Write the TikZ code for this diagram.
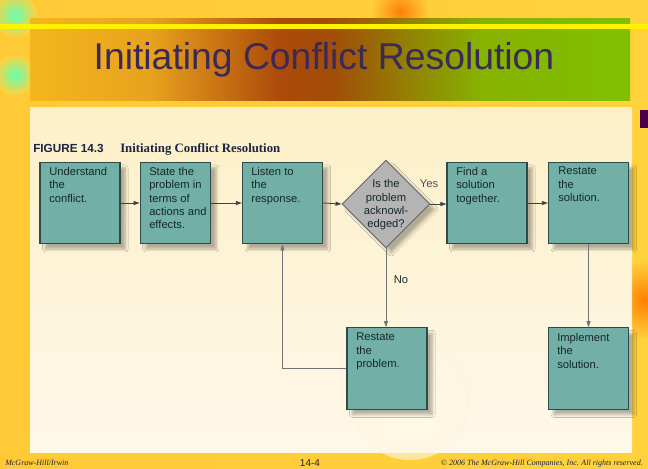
\documentclass[tikz,border=0pt]{standalone}
\usepackage{fontspec}
\setmainfont{Liberation Sans}
\newfontfamily\capserif{Liberation Serif}
\usetikzlibrary{shapes.geometric,arrows.meta,shadows.blur}
\definecolor{bgyel}{HTML}{FFD23C}
\definecolor{panel}{HTML}{FDF5E0}
\definecolor{teal}{HTML}{72AFA6}
\definecolor{tealline}{HTML}{2C4A46}
\definecolor{dgray}{HTML}{B4B4B4}
\definecolor{titlec}{HTML}{3A2A58}
\definecolor{navy}{HTML}{1C2444}
\definecolor{txt}{HTML}{15282A}
\definecolor{bn1}{HTML}{F4B61C}
\definecolor{bn2}{HTML}{E8A21E}
\definecolor{bn3}{HTML}{AC4A0A}
\definecolor{bn4}{HTML}{A24C08}
\definecolor{bn5}{HTML}{86B200}
\definecolor{bn6}{HTML}{80C000}
\tikzset{
 box/.style={draw=tealline,line width=0.9pt,fill=teal,minimum width=60pt,minimum height=61pt,inner sep=0pt,
   blur shadow={shadow xshift=4pt,shadow yshift=-4pt,shadow blur steps=6,shadow opacity=30}},
 btext/.style={anchor=north west,align=left,inner sep=0pt,text=txt,font=\fontsize{8.4}{10}\selectfont},
 arr/.style={draw=black!75,line width=0.6pt,-{Triangle[length=4.5pt,width=3pt]}},
 thin arr/.style={draw=black!55,line width=0.4pt,-{Triangle[length=4.5pt,width=3pt]}},
}
\begin{document}
\begin{tikzpicture}[x=0.75pt,y=-0.75pt]
\useasboundingbox (0,0) rectangle (648,468);
% background
\shade[left color=bgyel!90!orange,right color=bgyel] (0,0) rectangle (648,468);
\shade[inner color=orange!85!red,outer color=bgyel,opacity=0.8] (400,12) circle (30);
\shade[inner color=cyan!50!green!60!white,outer color=bgyel] (15,15) circle (22);
\shade[inner color=cyan!50!green!60!white,outer color=bgyel] (15,75) circle (20);
\shade[inner color=orange,outer color=bgyel] (645,300) circle (40);
\fill[violet!60!black] (640,110) rectangle (648,128);
% title banner
\shade[left color=bn1,right color=bn2] (30,18) rectangle (150.5,100);
\shade[left color=bn2,right color=bn3] (150,18) rectangle (280.5,100);
\shade[left color=bn3,right color=bn4] (280,18) rectangle (330.5,100);
\shade[left color=bn4,right color=bn5] (330,18) rectangle (480.5,100);
\shade[left color=bn5,right color=bn6] (480,18) rectangle (630,100);
\fill[yellow] (0,24) rectangle (648,29);
\node[font=\fontsize{28}{32}\selectfont,text=titlec] (title) at (324,60) {Initiating Conflict Resolution};
% panel
\shade[top color=panel!85!bgyel,bottom color=panel!70!white] (30,107) rectangle (632,452);
\shade[inner color=white!90!yellow,outer color=panel,opacity=0.6] (410,400) circle (60);
% caption
\node[anchor=base west,inner sep=0pt,font=\fontsize{8.8}{11}\selectfont\bfseries,text=navy] (fig) at (33,152) {FIGURE 14.3};
\node[anchor=base west,inner sep=0pt,font=\capserif\fontsize{9.6}{11}\selectfont\bfseries,text=navy] (cap) at (120,152) {Initiating Conflict Resolution};
% boxes
\node[box] (b1) at (80,203) {};
\node[box,minimum width=53pt] (b2) at (175.5,203) {};
\node[box] (b3) at (282.5,203) {};
\node[box] (b4) at (487,203) {};
\node[box] (b5) at (588.5,203) {};
\node[box] (b6) at (387,368.5) {};
\node[box] (b7) at (588.5,368.5) {};
\node[diamond,draw=black!60,line width=0.7pt,fill=dgray,minimum width=66pt,minimum height=66pt,inner sep=0pt,
  blur shadow={shadow xshift=4pt,shadow yshift=-4pt,shadow blur steps=6,shadow opacity=30}] (d) at (386,204) {};
\node[align=center,inner sep=0pt,text=txt,font=\fontsize{8.4}{10}\selectfont] (dt) at (386,205) {Is the\\problem\\acknowl-\\edged?};
% texts
\node[btext] (t1) at (49,167) {Understand\\the\\conflict.};
\node[btext] (t2) at (149,167) {State the\\problem in\\terms of\\actions and\\effects.};
\node[btext] (t3) at (251,167) {Listen to\\the\\response.};
\node[btext] (t4) at (456,167) {Find a\\solution\\together.};
\node[btext] (t5) at (558,167) {Restate\\the\\solution.};
\node[btext] (t6) at (356,333) {Restate\\the\\problem.};
\node[btext] (t7) at (557,333) {Implement\\the\\solution.};
% labels
\node[font=\fontsize{8.4}{10}\selectfont,text=txt!80] (yes) at (429,184) {Yes};
\node[font=\fontsize{8.4}{10}\selectfont,text=txt] (no) at (401,280) {No};
% connectors
\draw[arr] (b1) -- (b2);
\draw[arr] (b2) -- (b3);
\draw[arr] (b3.east) -- (d.west);
\draw[arr] (d.east) -- (b4.west |- d.east);
\draw[arr] (b4) -- (b5);
\draw[thin arr] (d.south) -- (d.south |- b6.north);
\draw[thin arr] (b5) -- (b7);
\draw[thin arr] (b6.west) -| (b3.south);
% footer
\node[anchor=base west,inner sep=0pt,font=\capserif\itshape\fontsize{6}{7}\selectfont,text=navy] (f1) at (5,465) {McGraw-Hill/Irwin};
\node[anchor=base,inner sep=0pt,font=\fontsize{7.5}{9}\selectfont,text=navy] (f2) at (310,466) {14-4};
\node[anchor=base east,inner sep=0pt,font=\capserif\itshape\fontsize{6}{7}\selectfont,text=navy] (f3) at (643,465) {\textcopyright\ 2006 The McGraw-Hill Companies, Inc. All rights reserved.};
\end{tikzpicture}
\end{document}
